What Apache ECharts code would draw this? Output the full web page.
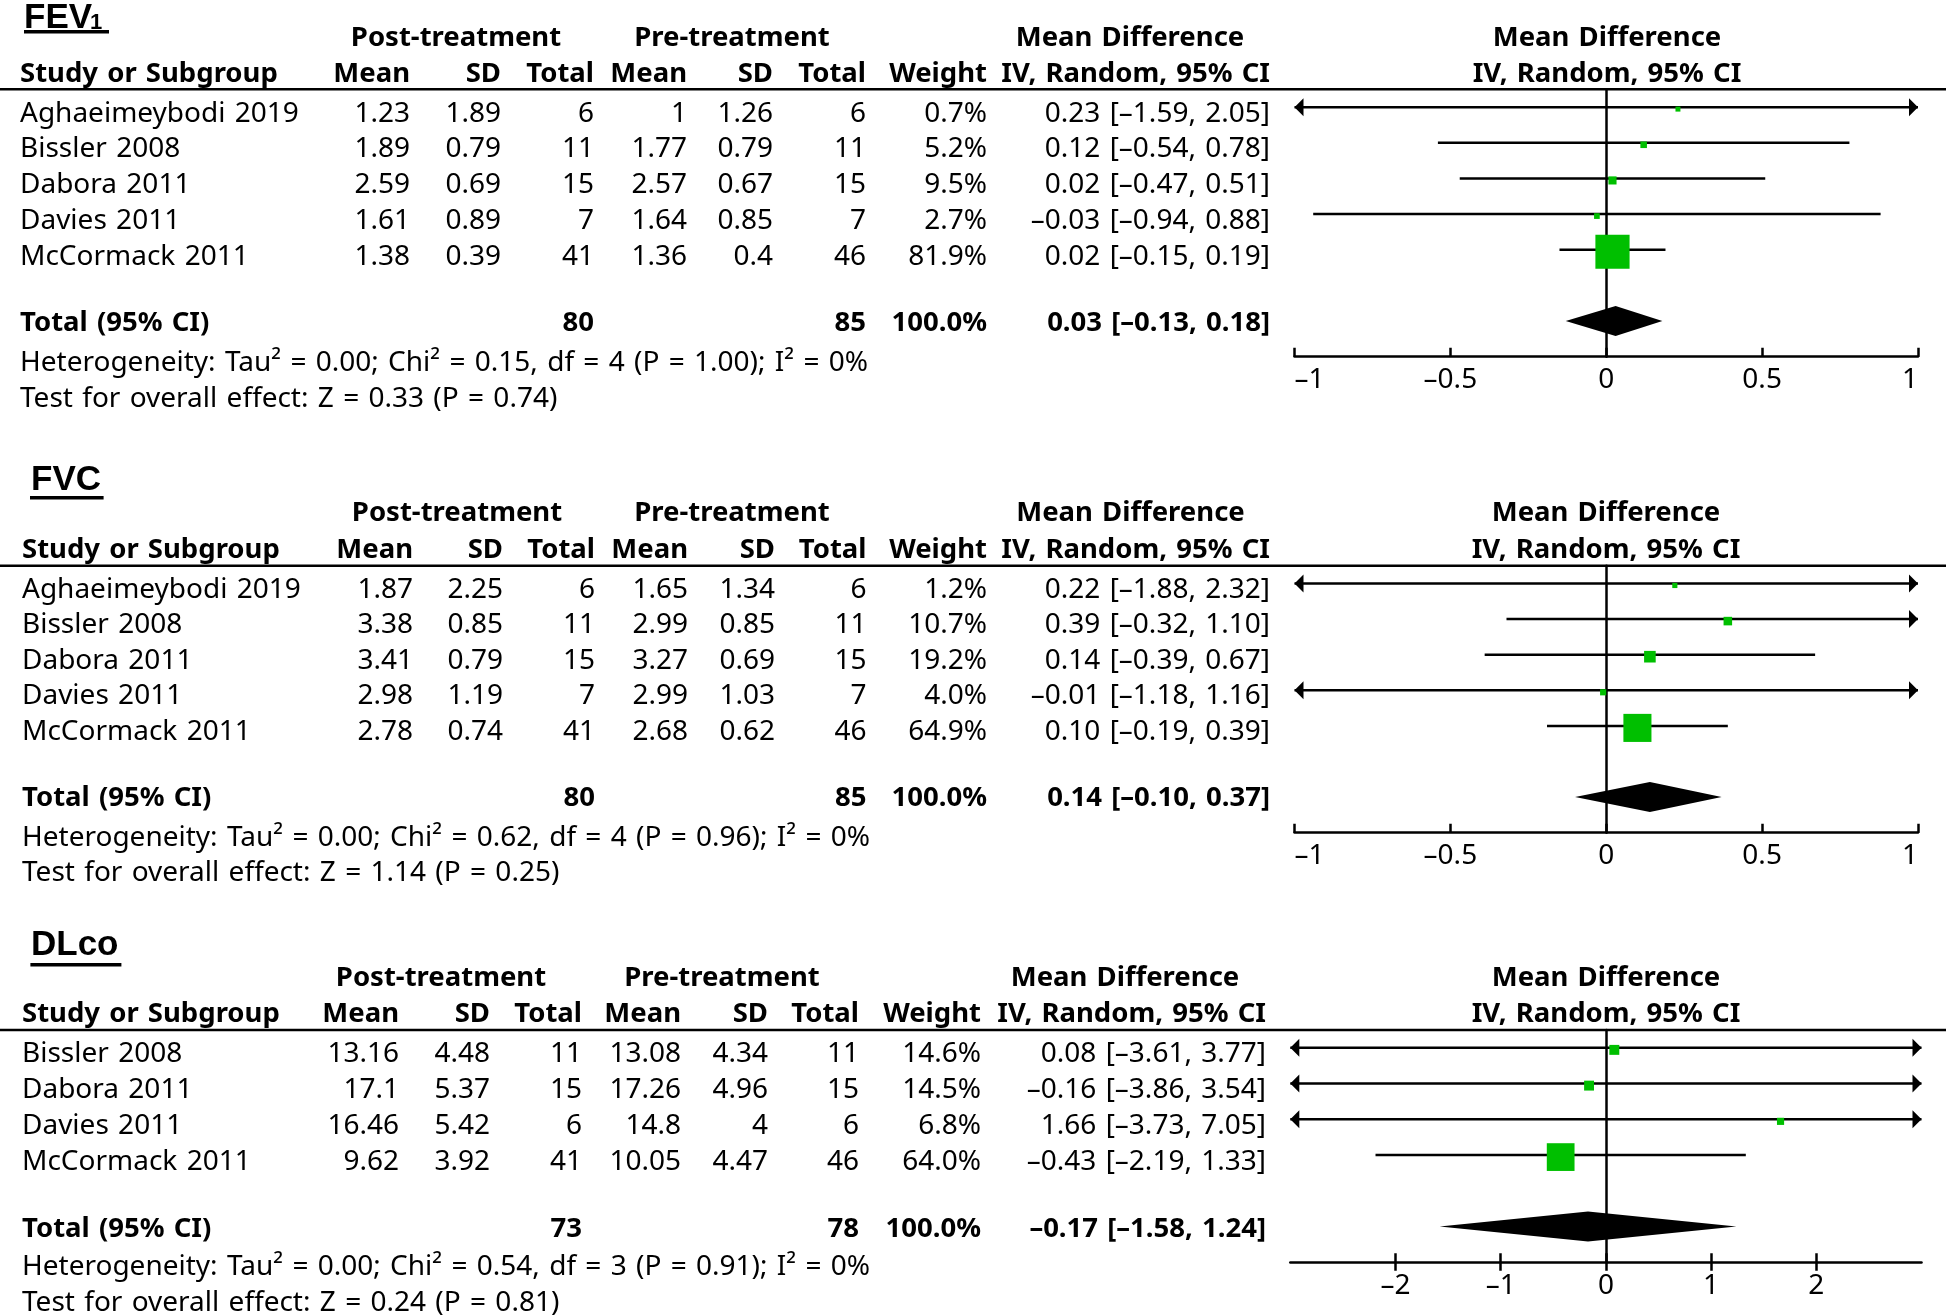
<!DOCTYPE html>
<html><head><meta charset="utf-8">
<script src="https://cdn.jsdelivr.net/npm/echarts@6/dist/echarts.min.js"></script>
<style>html,body{margin:0;padding:0;background:#fff}#c{width:1946px;height:1316px}</style>
</head><body><div id="c"></div>
<script>
// ---------------- DATA ----------------
// FEV1
const fevStudy = ['Aghaeimeybodi 2019','Bissler 2008','Dabora 2011','Davies 2011','McCormack 2011'];
const fevPostMean = [1.23, 1.89, 2.59, 1.61, 1.38];
const fevPostSD   = [1.89, 0.79, 0.69, 0.89, 0.39];
const fevPostN    = [6, 11, 15, 7, 41];
const fevPreMean  = [1, 1.77, 2.57, 1.64, 1.36];
const fevPreSD    = [1.26, 0.79, 0.67, 0.85, 0.4];
const fevPreN     = [6, 11, 15, 7, 46];
const fevWeight   = [0.7, 5.2, 9.5, 2.7, 81.9];
const fevMD       = [0.23, 0.12, 0.02, -0.03, 0.02];
const fevLo       = [-1.59, -0.54, -0.47, -0.94, -0.15];
const fevHi       = [2.05, 0.78, 0.51, 0.88, 0.19];
const fevTotalN   = [80, 85];
const fevTotalCI  = [0.03, -0.13, 0.18];
const fevHet      = [0.00, 0.15, 4, 1.00, 0];   // Tau2, Chi2, df, P, I2
const fevZ        = [0.33, 0.74];
const fevTicks    = [-1, -0.5, 0, 0.5, 1];

// FVC
const fvcStudy = ['Aghaeimeybodi 2019','Bissler 2008','Dabora 2011','Davies 2011','McCormack 2011'];
const fvcPostMean = [1.87, 3.38, 3.41, 2.98, 2.78];
const fvcPostSD   = [2.25, 0.85, 0.79, 1.19, 0.74];
const fvcPostN    = [6, 11, 15, 7, 41];
const fvcPreMean  = [1.65, 2.99, 3.27, 2.99, 2.68];
const fvcPreSD    = [1.34, 0.85, 0.69, 1.03, 0.62];
const fvcPreN     = [6, 11, 15, 7, 46];
const fvcWeight   = [1.2, 10.7, 19.2, 4.0, 64.9];
const fvcMD       = [0.22, 0.39, 0.14, -0.01, 0.10];
const fvcLo       = [-1.88, -0.32, -0.39, -1.18, -0.19];
const fvcHi       = [2.32, 1.10, 0.67, 1.16, 0.39];
const fvcTotalN   = [80, 85];
const fvcTotalCI  = [0.14, -0.10, 0.37];
const fvcHet      = [0.00, 0.62, 4, 0.96, 0];
const fvcZ        = [1.14, 0.25];
const fvcTicks    = [-1, -0.5, 0, 0.5, 1];

// DLco
const dlStudy = ['Bissler 2008','Dabora 2011','Davies 2011','McCormack 2011'];
const dlPostMean = [13.16, 17.1, 16.46, 9.62];
const dlPostSD   = [4.48, 5.37, 5.42, 3.92];
const dlPostN    = [11, 15, 6, 41];
const dlPreMean  = [13.08, 17.26, 14.8, 10.05];
const dlPreSD    = [4.34, 4.96, 4, 4.47];
const dlPreN     = [11, 15, 6, 46];
const dlWeight   = [14.6, 14.5, 6.8, 64.0];
const dlMD       = [0.08, -0.16, 1.66, -0.43];
const dlLo       = [-3.61, -3.86, -3.73, -2.19];
const dlHi       = [3.77, 3.54, 7.05, 1.33];
const dlTotalN   = [73, 78];
const dlTotalCI  = [-0.17, -1.58, 1.24];
const dlHet      = [0.00, 0.54, 3, 0.91, 0];
const dlZ        = [0.24, 0.81];
const dlTicks    = [-2, -1, 0, 1, 2];

// ---------------- HELPERS ----------------
const FONT = '"Noto Sans", "Open Sans", "DejaVu Sans", sans-serif';
const TFONT = '"Liberation Sans", Arial, sans-serif';
const GREEN = '#00BF00';
const dash = s => String(s).replace(/-/g, '\u2013');
const wide = s => String(s).replace(/ /g, '\u2004');
const f2 = v => dash(v.toFixed(2));
const ciText = (c) => f2(c[0]) + ' [' + f2(c[1]) + ', ' + f2(c[2]) + ']';
const hetText = h => 'Heterogeneity: Tau\u00B2 = ' + h[0].toFixed(2) + '; Chi\u00B2 = ' + h[1].toFixed(2) +
  ', df = ' + h[2] + ' (P = ' + h[3].toFixed(2) + '); I\u00B2 = ' + h[4] + '%';
const zText = z => 'Test for overall effect: Z = ' + z[0].toFixed(2) + ' (P = ' + z[1].toFixed(2) + ')';

function T(x, y, text, align, bold) {
  return {type: 'text', x: x, y: y + 2, silent: true,
    style: {text: wide(text), fill: '#000', font: (bold ? 'bold 27.5px ' : '28px ') + FONT,
      textAlign: align || 'left', textVerticalAlign: 'middle'}};
}

const panels = [
  {title: 'FEV', sub: '1', study: fevStudy, pm: fevPostMean, ps: fevPostSD, pn: fevPostN, qm: fevPreMean, qs: fevPreSD, qn: fevPreN,
   w: fevWeight, md: fevMD, lo: fevLo, hi: fevHi, tn: fevTotalN, tci: fevTotalCI, het: fevHet, z: fevZ, ticks: fevTicks,
   xMin: -1, xMax: 1, interval: 0.5, yMax: 7, crossTicks: false,
   L: {tx: 24, ty: 18, subX: 90, subY: 23, ul: [24, 30, 85, 3.5], groupY: 36, headY: 72, row0: 111.7, step: 35.8,
       totalY: 321.5, hetY: 361, testY: 397, col: [20, 410, 501, 594, 687, 773, 866, 987, 1270],
       postC: 456, preC: 732, mdC: 1130, rightC: 1607, rule: 89.3,
       grid: {left: 1294.5, width: 623.5, top: 89.3, height: 267.4}, labMargin: 9}},
  {title: 'FVC', sub: '', study: fvcStudy, pm: fvcPostMean, ps: fvcPostSD, pn: fvcPostN, qm: fvcPreMean, qs: fvcPreSD, qn: fvcPreN,
   w: fvcWeight, md: fvcMD, lo: fvcLo, hi: fvcHi, tn: fvcTotalN, tci: fvcTotalCI, het: fvcHet, z: fvcZ, ticks: fvcTicks,
   xMin: -1, xMax: 1, interval: 0.5, yMax: 7, crossTicks: false,
   L: {tx: 31, ty: 480, ul: [30, 496, 73.6, 3.5], groupY: 511.5, headY: 548, row0: 588, step: 35.5,
       totalY: 796.6, hetY: 836.5, testY: 871, col: [22, 413, 503, 595, 688, 775, 866.5, 987, 1270],
       postC: 457, preC: 732, mdC: 1130.5, rightC: 1606, rule: 565.7,
       grid: {left: 1294.5, width: 623.5, top: 565.7, height: 267}, labMargin: 9}},
  {title: 'DLco', sub: '', study: dlStudy, pm: dlPostMean, ps: dlPostSD, pn: dlPostN, qm: dlPreMean, qs: dlPreSD, qn: dlPreN,
   w: dlWeight, md: dlMD, lo: dlLo, hi: dlHi, tn: dlTotalN, tci: dlTotalCI, het: dlHet, z: dlZ, ticks: dlTicks,
   xMin: -3, xMax: 3, interval: 1, yMax: 6, crossTicks: true,
   L: {tx: 31, ty: 945.5, ul: [30.4, 963, 91, 3.5], groupY: 976.6, headY: 1012.5, row0: 1051.7, step: 36,
       totalY: 1227.5, hetY: 1265.5, testY: 1301, col: [22, 399, 490, 582, 681, 768, 859, 981, 1266],
       postC: 441, preC: 722, mdC: 1125, rightC: 1606, rule: 1030,
       grid: {left: 1290.3, width: 631.2, top: 1030, height: 232.3}, labMargin: 10}}
];

// ---------------- BUILD ----------------
const graphic = [];
const grids = [], xAxes = [], yAxes = [], series = [];

panels.forEach((p, gi) => {
  const L = p.L, c = L.col;
  // title
  graphic.push({type: 'text', x: L.tx, y: L.ty, silent: true,
    style: {text: p.title, fill: '#000', font: 'bold 35px ' + TFONT, textAlign: 'left', textVerticalAlign: 'middle'}});
  if (p.sub) graphic.push({type: 'text', x: L.subX, y: L.subY, silent: true,
    style: {text: p.sub, fill: '#000', font: 'bold 22px ' + TFONT, textAlign: 'left', textVerticalAlign: 'middle'}});
  graphic.push({type: 'rect', silent: true, shape: {x: L.ul[0], y: L.ul[1], width: L.ul[2], height: L.ul[3]}, style: {fill: '#000'}});
  // header rule
  graphic.push({type: 'line', silent: true, shape: {x1: 0, y1: L.rule, x2: 1946, y2: L.rule}, style: {stroke: '#000', lineWidth: 2.5}});
  // group headers
  graphic.push(T(L.postC, L.groupY, 'Post-treatment', 'center', true));
  graphic.push(T(L.preC, L.groupY, 'Pre-treatment', 'center', true));
  graphic.push(T(L.mdC, L.groupY, 'Mean Difference', 'center', true));
  graphic.push(T(L.rightC, L.groupY, 'Mean Difference', 'center', true));
  // column headers
  graphic.push(T(c[0], L.headY, 'Study or Subgroup', 'left', true));
  ['Mean', 'SD', 'Total', 'Mean', 'SD', 'Total', 'Weight', 'IV, Random, 95% CI'].forEach((h, k) =>
    graphic.push(T(c[k + 1], L.headY, h, 'right', true)));
  graphic.push(T(L.rightC, L.headY, 'IV, Random, 95% CI', 'center', true));
  // rows
  p.study.forEach((s, i) => {
    const y = L.row0 + i * L.step;
    graphic.push(T(c[0], y, s, 'left'));
    graphic.push(T(c[1], y, String(p.pm[i]), 'right'));
    graphic.push(T(c[2], y, String(p.ps[i]), 'right'));
    graphic.push(T(c[3], y, String(p.pn[i]), 'right'));
    graphic.push(T(c[4], y, String(p.qm[i]), 'right'));
    graphic.push(T(c[5], y, String(p.qs[i]), 'right'));
    graphic.push(T(c[6], y, String(p.qn[i]), 'right'));
    graphic.push(T(c[7], y, p.w[i].toFixed(1) + '%', 'right'));
    graphic.push(T(c[8], y, ciText([p.md[i], p.lo[i], p.hi[i]]), 'right'));
  });
  // total row
  graphic.push(T(c[0], L.totalY, 'Total (95% CI)', 'left', true));
  graphic.push(T(c[3], L.totalY, String(p.tn[0]), 'right', true));
  graphic.push(T(c[6], L.totalY, String(p.tn[1]), 'right', true));
  graphic.push(T(c[7], L.totalY, (100).toFixed(1) + '%', 'right', true));
  graphic.push(T(c[8], L.totalY, ciText(p.tci), 'right', true));
  graphic.push(T(c[0], L.hetY, hetText(p.het), 'left'));
  graphic.push(T(c[0], L.testY, zText(p.z), 'left'));

  // grid & axes
  grids.push(Object.assign({containLabel: false, outerBoundsMode: 'none'}, L.grid));
  const labelBase = {show: true, customValues: p.ticks, margin: L.labMargin, color: '#000',
    fontFamily: FONT, fontSize: 28, lineHeight: 28, formatter: v => dash(v)};
  if (!p.crossTicks) { labelBase.alignMinLabel = 'left'; labelBase.alignMaxLabel = 'right'; }
  xAxes.push({type: 'value', gridIndex: gi, position: 'bottom', min: p.xMin, max: p.xMax, interval: p.interval,
    axisLine: {show: true, onZero: false, lineStyle: {color: '#000', width: 2.5}},
    axisTick: {show: true, inside: !p.crossTicks, length: p.crossTicks ? 8.5 : 9, customValues: p.ticks,
      lineStyle: {color: '#000', width: 2.5}},
    axisLabel: labelBase, splitLine: {show: false}});
  const xIdx = xAxes.length - 1;
  if (p.crossTicks) {
    xAxes.push({type: 'value', gridIndex: gi, position: 'bottom', min: p.xMin, max: p.xMax, interval: p.interval,
      axisLine: {show: false, onZero: false},
      axisTick: {show: true, inside: true, length: 9, customValues: p.ticks, lineStyle: {color: '#000', width: 2.5}},
      axisLabel: {show: false}, splitLine: {show: false}});
  }
  yAxes.push({type: 'value', gridIndex: gi, inverse: true, min: -0.5, max: p.yMax,
    axisLine: {show: true, onZero: true, lineStyle: {color: '#000', width: 2.5}},
    axisTick: {show: false}, axisLabel: {show: false}, splitLine: {show: false}});
  const yIdx = yAxes.length - 1;

  // studies
  series.push({type: 'custom', xAxisIndex: xIdx, yAxisIndex: yIdx, z: 3, silent: true,
    data: p.md.map((m, i) => [i, m, p.lo[i], p.hi[i], p.w[i]]),
    renderItem: (params, api) => {
      const row = api.value(0), m = api.value(1), lo = api.value(2), hi = api.value(3), w = api.value(4);
      const a = Math.max(lo, p.xMin), b = Math.min(hi, p.xMax);
      const pa = api.coord([a, row]), pb = api.coord([b, row]), pm = api.coord([m, row]);
      const ch = [{type: 'line', shape: {x1: pa[0], y1: pa[1], x2: pb[0], y2: pb[1]}, style: {stroke: '#000', lineWidth: 2.5}}];
      if (lo < p.xMin) ch.push({type: 'polygon', shape: {points: [[pa[0], pa[1]], [pa[0] + 9, pa[1] - 9], [pa[0] + 9, pa[1] + 9]]}, style: {fill: '#000'}});
      if (hi > p.xMax) ch.push({type: 'polygon', shape: {points: [[pb[0], pb[1]], [pb[0] - 9, pb[1] - 9], [pb[0] - 9, pb[1] + 9]]}, style: {fill: '#000'}});
      const s = 4.7 + 0.36 * w;
      ch.push({type: 'rect', shape: {x: pm[0] - s / 2, y: pm[1] + 2 - s / 2, width: s, height: s}, style: {fill: GREEN}});
      return {type: 'group', children: ch};
    }});
  // total diamond
  series.push({type: 'custom', xAxisIndex: xIdx, yAxisIndex: yIdx, z: 3, silent: true,
    data: [[p.yMax - 1, p.tci[0], p.tci[1], p.tci[2]]],
    renderItem: (params, api) => {
      const row = api.value(0);
      const pl = api.coord([api.value(2), row]), pr = api.coord([api.value(3), row]), pm = api.coord([api.value(1), row]);
      return {type: 'polygon', shape: {points: [[pl[0], pl[1]], [pm[0], pm[1] - 15], [pr[0], pr[1]], [pm[0], pm[1] + 15]]},
        style: {fill: '#000'}};
    }});
});

const chart = echarts.init(document.getElementById('c'), null, {renderer: 'canvas'});
chart.setOption({
  backgroundColor: '#fff',
  animation: false,
  grid: grids, xAxis: xAxes, yAxis: yAxes, series: series,
  graphic: graphic
});
</script>
</body></html>
